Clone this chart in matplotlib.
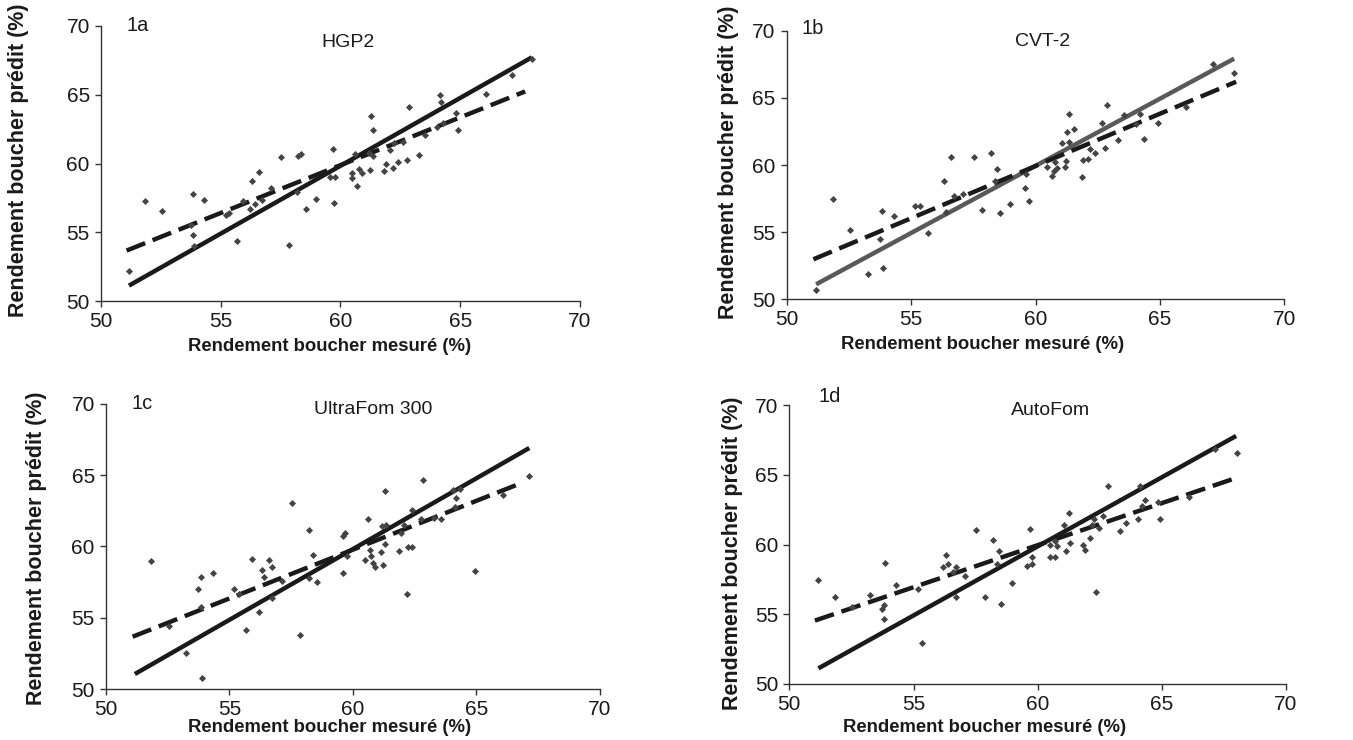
import numpy as np
from matplotlib import pyplot as plt

plt.rcParams['font.family'] = ['Liberation Sans', 'DejaVu Sans']

# --- data ---
# 1a HGP2
x_1a = [51.17, 51.83, 52.53, 53.83, 53.74, 53.83, 53.89, 54.29, 55.21, 55.35, 55.67, 55.92,
        56.21, 56.31, 56.42, 56.58, 56.72, 57.10, 57.53, 57.85, 58.17, 58.24, 58.36, 58.54,
        58.97, 59.68, 59.58, 59.76, 59.75, 60.46, 60.49, 60.60, 60.71, 60.79, 60.88, 61.18,
        61.25, 61.29, 61.35, 61.35, 61.83, 61.89, 62.08, 62.18, 62.24, 62.39, 62.63, 62.79,
        62.85, 63.29, 63.54, 64.03, 64.14, 64.19, 64.28, 64.83, 64.92, 66.07, 67.14, 67.99]
y_1a = [52.16, 57.28, 56.55, 57.77, 55.56, 54.78, 54.00, 57.38, 56.26, 56.38, 54.37, 57.28,
        56.67, 58.71, 57.06, 59.37, 57.35, 58.23, 60.44, 54.08, 57.91, 60.58, 60.70, 56.70,
        57.45, 61.07, 59.05, 59.00, 57.16, 58.93, 59.30, 60.70, 58.33, 59.61, 59.30, 60.75,
        59.56, 63.42, 62.45, 60.51, 59.44, 59.93, 60.95, 59.68, 61.48, 60.10, 61.53, 60.27,
        64.10, 60.61, 62.09, 62.62, 64.95, 64.47, 62.94, 63.67, 62.40, 65.02, 66.46, 67.60]
solid_1a = ([51.17, 67.99], [51.12, 67.72])
dash_1a = ([51.07, 67.71], [53.67, 65.24])

# 1b CVT-2
x_1b = [51.18, 51.84, 52.53, 53.28, 53.75, 53.84, 53.88, 54.30, 55.17, 55.36, 55.68, 56.30,
        56.39, 56.59, 56.71, 57.07, 57.54, 57.85, 58.20, 58.37, 58.45, 58.55, 58.97, 59.59,
        59.63, 59.74, 60.46, 60.65, 60.74, 60.78, 60.88, 61.05, 61.19, 61.23, 61.28, 61.34,
        61.36, 61.53, 61.86, 61.90, 62.10, 62.19, 62.39, 62.65, 62.79, 62.86, 63.30, 63.57,
        64.05, 64.21, 64.35, 64.91, 66.05, 67.15, 67.98]
y_1b = [50.69, 57.47, 55.16, 51.86, 54.52, 56.55, 52.36, 56.23, 56.97, 56.92, 54.96, 58.83,
        56.53, 60.62, 57.72, 57.84, 60.60, 56.65, 60.87, 58.78, 59.73, 56.45, 57.10, 58.26,
        59.31, 57.34, 59.88, 59.21, 59.55, 60.25, 59.75, 61.66, 59.83, 60.30, 62.46, 61.69,
        63.80, 62.66, 59.08, 60.37, 60.42, 61.17, 60.89, 63.13, 61.24, 64.47, 61.86, 63.72,
        63.05, 63.77, 61.94, 63.10, 64.32, 67.54, 66.82]
solid_1b = ([51.18, 67.98], [51.12, 67.92])
dash_1b = ([51.07, 68.06], [52.98, 66.20])

# 1c UltraFom 300
x_1c = [51.82, 52.55, 53.25, 53.74, 53.83, 53.83, 53.87, 54.32, 55.20, 55.37, 55.67, 55.92,
        56.21, 56.32, 56.40, 56.59, 56.73, 56.73, 57.11, 57.52, 57.85, 58.22, 58.22, 58.37,
        58.54, 59.58, 59.60, 59.68, 59.77, 60.49, 60.61, 60.69, 60.73, 60.80, 60.89, 61.13,
        61.17, 61.23, 61.28, 61.30, 61.32, 61.85, 61.93, 62.08, 62.19, 62.24, 62.38, 62.38,
        62.75, 62.83, 63.29, 63.56, 64.06, 64.18, 64.14, 64.33, 64.94, 66.09, 67.14]
y_1c = [59.01, 54.40, 52.50, 56.99, 57.84, 55.78, 50.77, 58.12, 56.99, 56.69, 54.14, 59.12,
        55.43, 58.33, 57.84, 59.03, 58.58, 56.39, 57.56, 63.08, 53.79, 61.16, 57.81, 59.40,
        57.51, 58.14, 60.74, 60.92, 59.33, 59.03, 61.91, 59.75, 59.36, 58.87, 58.54, 59.64,
        61.44, 58.70, 63.92, 60.20, 61.49, 59.71, 60.92, 61.51, 56.67, 59.94, 59.99, 62.56,
        61.93, 64.69, 62.02, 61.93, 63.97, 63.40, 62.80, 64.06, 58.28, 63.64, 64.97]
solid_1c = ([51.17, 67.14], [51.05, 66.91])
dash_1c = ([51.08, 66.76], [53.67, 64.41])

# 1d AutoFom
x_1d = [51.14, 51.83, 52.51, 53.26, 53.74, 53.83, 53.81, 53.87, 54.30, 55.18, 55.34, 56.20,
        56.30, 56.40, 56.59, 56.72, 56.72, 57.09, 57.53, 57.87, 58.21, 58.36, 58.44, 58.54,
        58.98, 59.58, 59.68, 59.76, 59.79, 60.48, 60.50, 60.68, 60.70, 60.78, 61.06, 61.13,
        61.25, 61.29, 61.84, 61.89, 62.09, 62.17, 62.28, 62.36, 62.48, 62.63, 62.85, 63.30,
        63.56, 64.03, 64.12, 64.21, 64.34, 64.83, 64.91, 66.08, 67.14, 68.01]
y_1d = [57.46, 56.27, 55.53, 56.41, 55.36, 55.67, 54.64, 58.66, 57.08, 56.84, 52.97, 58.37,
        59.28, 58.59, 58.04, 58.42, 56.27, 57.78, 61.08, 56.27, 60.33, 58.64, 59.57, 55.77,
        57.27, 58.49, 61.10, 59.11, 58.61, 59.95, 59.11, 59.09, 60.29, 59.90, 61.44, 59.52,
        62.27, 60.10, 59.98, 59.62, 60.50, 61.41, 61.82, 56.63, 61.22, 62.08, 64.23, 61.00,
        61.58, 61.87, 64.21, 62.78, 63.23, 63.09, 61.84, 63.44, 66.84, 66.56]
solid_1d = ([51.17, 67.99], [51.12, 67.80])
dash_1d = ([51.03, 67.95], [54.55, 64.76])

panels = [
    # tag, title, x, y, solid, dash, solid colour, axes rect, title x/y, tag x/y, ylabel xy, xlabel xy
    ("1a", "HGP2", x_1a, y_1a, solid_1a, dash_1a, "#1a1a1a",
     [0.0746, 0.5932, 0.3541, 0.3717], (0.515, 0.94), (0.054, 1.0), (-0.173, 0.513), (0.478, -0.167)),
    ("1b", "CVT-2", x_1b, y_1b, solid_1b, dash_1b, "#595959",
     [0.5815, 0.5955, 0.3678, 0.3630], (0.515, 0.959), (0.03, 1.01), (-0.118, 0.511), (0.394, -0.17)),
    ("1c", "UltraFom 300", x_1c, y_1c, solid_1c, dash_1c, "#1a1a1a",
     [0.0783, 0.0689, 0.3651, 0.3852], (0.542, 0.979), (0.052, 1.0), (-0.14, 0.495), (0.453, -0.135)),
    ("1d", "AutoFom", x_1d, y_1d, solid_1d, dash_1d, "#1a1a1a",
     [0.5834, 0.0757, 0.3671, 0.3766], (0.525, 0.981), (0.058, 1.03), (-0.115, 0.47), (0.394, -0.156)),
]

fig = plt.figure(figsize=(13.53, 7.40), dpi=100)

for tag, title, xs, ys, solid, dash, scol, rect, tpos, gpos, ylpos, xlpos in panels:
    ax = fig.add_axes(rect)
    ax.plot(solid[0], solid[1], color=scol, lw=3.2, solid_capstyle='butt', zorder=2)
    ax.plot(dash[0], dash[1], color='#1a1a1a', lw=3.2, dashes=(4.5, 1.8),
            dash_capstyle='butt', zorder=2)
    ax.scatter(xs, ys, marker='D', s=13, color='#444444', linewidths=0, zorder=3)

    ax.set_xlim(50, 70)
    ax.set_ylim(50, 70)
    ax.set_xticks([50, 55, 60, 65, 70])
    ax.set_yticks([50, 55, 60, 65, 70])
    for side in ('top', 'right'):
        ax.spines[side].set_visible(False)
    for side in ('left', 'bottom'):
        ax.spines[side].set_color('#333333')
        ax.spines[side].set_linewidth(1.0)
    ax.tick_params(direction='out', length=4, width=1, color='#333333',
                   labelsize=15, labelcolor='#1a1a1a', pad=4)

    ax.text(tpos[0], tpos[1], title, transform=ax.transAxes, ha='center', va='center',
            fontsize=14, color='#1a1a1a')
    ax.text(gpos[0], gpos[1], tag, transform=ax.transAxes, ha='left', va='center',
            fontsize=14.5, color='#1a1a1a')

    ax.set_ylabel('Rendement boucher prédit (%)', fontsize=15.5, fontweight='bold', color='#1a1a1a')
    ax.set_xlabel('Rendement boucher mesuré (%)', fontsize=13.3, fontweight='bold', color='#1a1a1a')
    ax.yaxis.set_label_coords(*ylpos)
    ax.xaxis.set_label_coords(*xlpos)
    ax.yaxis.label.set_va('center')
    ax.xaxis.label.set_va('center')

fig.savefig('out.png', dpi=100)
